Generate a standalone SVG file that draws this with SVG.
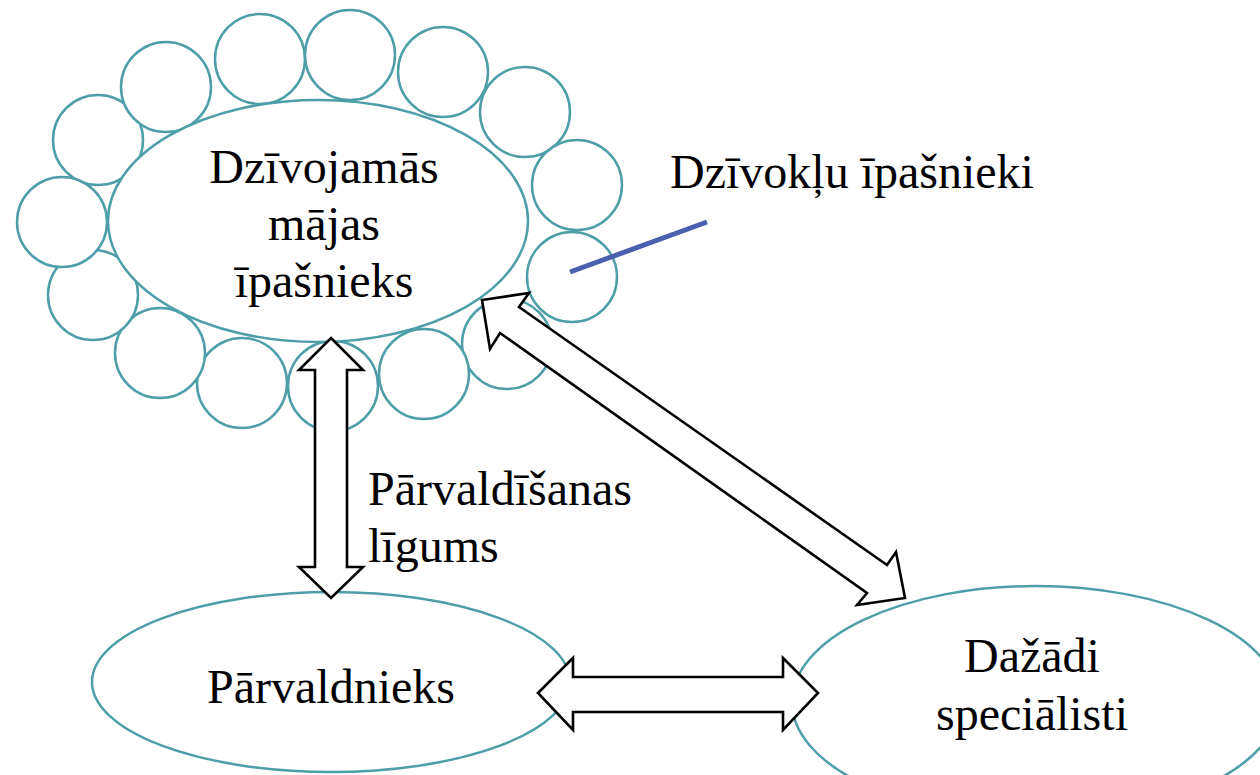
<svg xmlns="http://www.w3.org/2000/svg" width="1260" height="775" viewBox="0 0 1260 775">
<style>
.node{fill:#fff;stroke:#4e9ea9;stroke-width:2.5}
.arrow{fill:#fff;stroke:#000;stroke-width:2.6;stroke-linejoin:miter}
.t{font-family:"Liberation Serif","Times New Roman",serif;font-size:48px;fill:#000}
</style>
<rect width="1260" height="775" fill="#fff"/>
<g id="apartment-owners">
<circle class="node" cx="98" cy="140" r="45"/>
<circle class="node" cx="166" cy="87" r="45"/>
<circle class="node" cx="260" cy="59" r="45"/>
<circle class="node" cx="350" cy="55" r="45"/>
<circle class="node" cx="443" cy="72" r="45"/>
<circle class="node" cx="525" cy="112" r="45"/>
<circle class="node" cx="577" cy="185" r="45"/>
<circle class="node" cx="507" cy="344" r="45"/>
<circle class="node" cx="572" cy="277" r="45"/>
<circle class="node" cx="424" cy="374" r="45"/>
<circle class="node" cx="333" cy="386" r="45"/>
<circle class="node" cx="242" cy="383" r="45"/>
<circle class="node" cx="160" cy="353" r="45"/>
<circle class="node" cx="93" cy="295" r="45"/>
<circle class="node" cx="62" cy="222" r="45"/>
</g>
<g id="house-owner">
<ellipse class="node" cx="318" cy="221" rx="210" ry="121"/>
<text class="t" text-anchor="middle" x="324" y="183">Dzīvojamās</text>
<text class="t" text-anchor="middle" x="324" y="240">mājas</text>
<text class="t" text-anchor="middle" x="324" y="297">īpašnieks</text>
</g>
<g id="apartment-owners-label">
<line x1="570" y1="272" x2="707" y2="222" stroke="#4a5fae" stroke-width="5"/>
<text class="t" x="670" y="188">Dzīvokļu īpašnieki</text>
</g>
<g id="manager">
<ellipse class="node" cx="331" cy="682" rx="239" ry="90"/>
<text class="t" text-anchor="middle" x="331" y="703">Pārvaldnieks</text>
</g>
<g id="specialists">
<ellipse class="node" cx="1036" cy="702" rx="244" ry="116"/>
<text class="t" text-anchor="middle" x="1032" y="672">Dažādi</text>
<text class="t" text-anchor="middle" x="1032" y="730">speciālisti</text>
</g>
<g id="connectors">
<polygon class="arrow" points="331,338 363,370 347,370 347,567 363,567 331,598 299,567 315,567 315,370 299,370"/>
<polygon class="arrow" points="538,693 573,658 573,677 783,677 783,658 818,693 783,730 783,712 573,712 573,730"/>
<polygon class="arrow" points="482,300 529,293 519,307 887,565 896,552 905,598 857,605 867,593 500,333 490,349"/>
<text class="t" x="368" y="505">Pārvaldīšanas</text>
<text class="t" x="368" y="562">līgums</text>
</g>
</svg>
